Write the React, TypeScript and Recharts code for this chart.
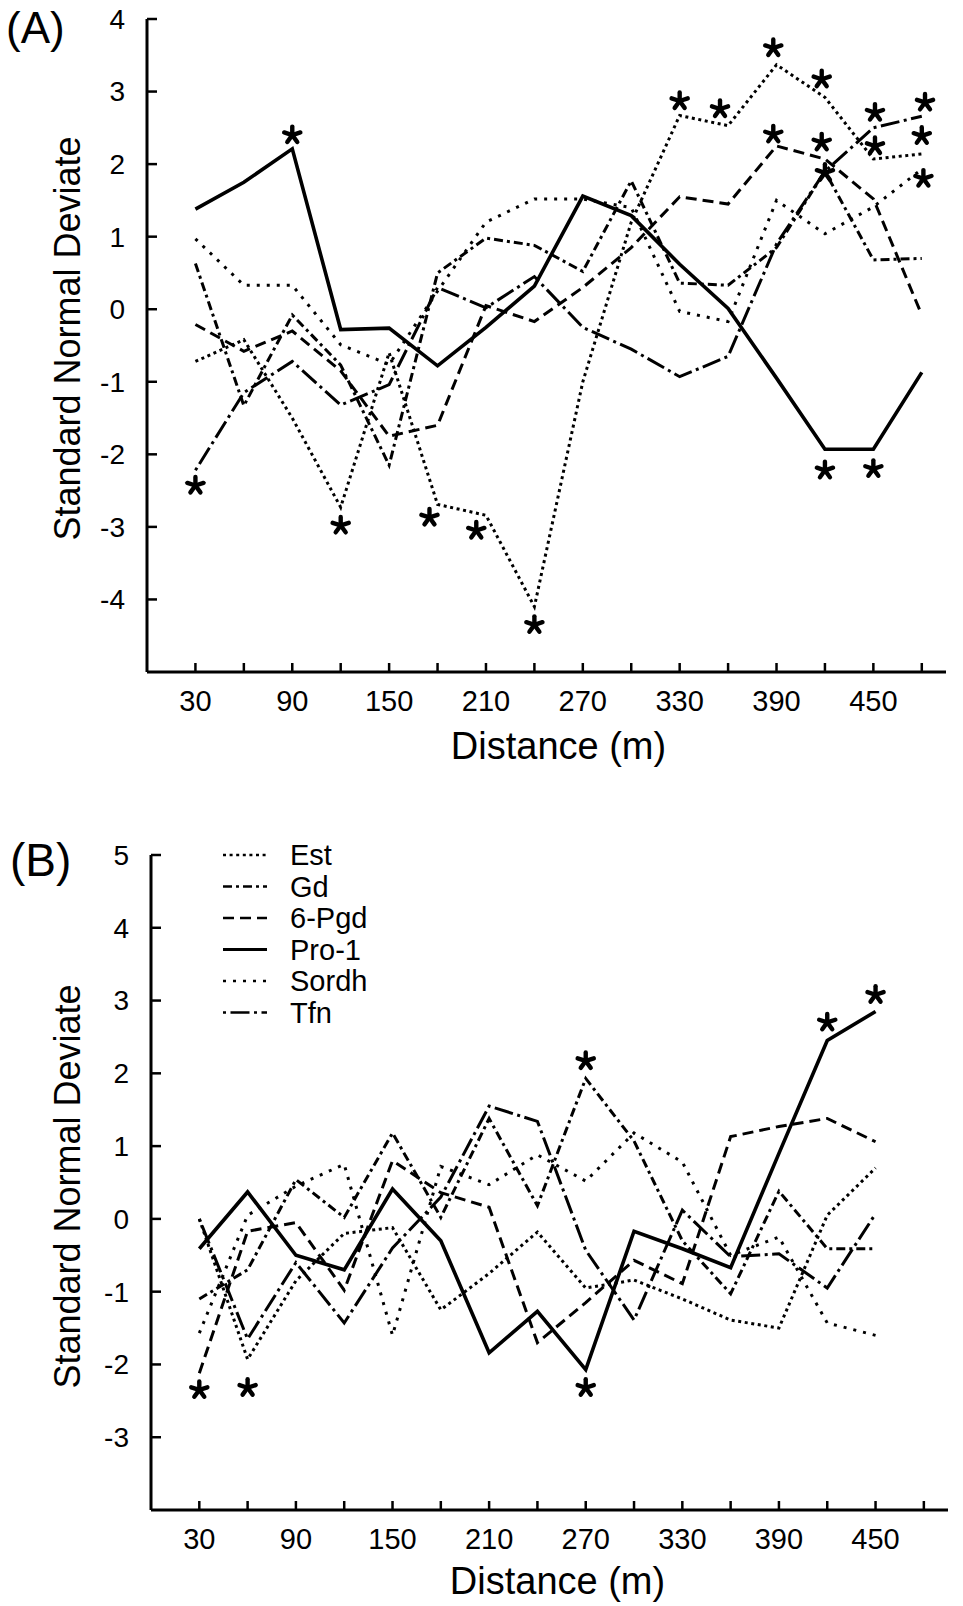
import React from 'react';
import { ComposedChart, Line, Scatter, XAxis, YAxis } from 'recharts';

const FONT = '"Liberation Sans", Arial, Helvetica, sans-serif';

// ---- Panel A (30 .. 480 m) ----
const distA = [30, 60, 90, 120, 150, 180, 210, 240, 270, 300, 330, 360, 390, 420, 450, 480];
const estA = [-0.72, -0.42, -1.5, -2.73, -0.6, -2.69, -2.84, -4.1, -1.0, 1.2, 2.67, 2.53, 3.37, 2.92, 2.07, 2.14];
const gdA = [0.63, -1.33, -0.08, -0.77, -2.15, 0.5, 0.98, 0.88, 0.52, 1.77, 0.36, 0.33, 0.85, 1.9, 0.68, 0.7];
const pgdA = [-0.21, -0.58, -0.3, -0.85, -1.75, -1.6, 0.05, -0.17, 0.3, 0.85, 1.55, 1.45, 2.25, 2.07, 1.52, -0.08];
const pro1A = [1.38, 1.75, 2.21, -0.28, -0.26, -0.78, -0.25, 0.32, 1.56, 1.29, 0.62, 0.01, -0.95, -1.93, -1.93, -0.87];
const sordhA = [0.97, 0.33, 0.33, -0.49, -0.76, 0.25, 1.2, 1.52, 1.52, 1.4, -0.03, -0.17, 1.5, 1.04, 1.41, 1.93];
const tfnA = [-2.22, -1.15, -0.72, -1.32, -1.04, 0.3, 0.02, 0.45, -0.25, -0.55, -0.93, -0.65, 0.9, 1.9, 2.5, 2.66];

// significant deviates (asterisks), panel A
const starsA = [
  { x: 30, y: -2.43 }, { x: 90, y: 2.4 }, { x: 120, y: -2.98 }, { x: 175, y: -2.87 },
  { x: 204, y: -3.05 }, { x: 240, y: -4.35 }, { x: 330, y: 2.87 }, { x: 355, y: 2.76 },
  { x: 388, y: 3.6 }, { x: 418, y: 3.17 }, { x: 388, y: 2.41 }, { x: 418, y: 2.3 },
  { x: 420, y: 1.88 }, { x: 451, y: 2.71 }, { x: 451, y: 2.25 }, { x: 482, y: 2.85 },
  { x: 480, y: 2.39 }, { x: 481, y: 1.8 }, { x: 420, y: -2.22 }, { x: 450, y: -2.2 },
];

// ---- Panel B (30 .. 450 m) ----
const distB = [30, 60, 90, 120, 150, 180, 210, 240, 270, 300, 330, 360, 390, 420, 450];
const estB = [0.0, -1.93, -0.85, -0.2, -0.12, -1.25, -0.75, -0.18, -0.95, -0.84, -1.1, -1.39, -1.5, 0.05, 0.7];
const gdB = [-1.1, -0.7, 0.54, 0.02, 1.18, 0.02, 1.38, 0.18, 1.93, 1.07, -0.3, -1.03, 0.38, -0.41, -0.41];
const pgdB = [-2.12, -0.17, -0.05, -0.98, 0.8, 0.36, 0.16, -1.7, -1.15, -0.57, -0.89, 1.13, 1.27, 1.38, 1.06];
const pro1B = [-0.41, 0.37, -0.5, -0.7, 0.41, -0.3, -1.84, -1.27, -2.07, -0.17, -0.41, -0.67, 0.9, 2.45, 2.85];
const sordhB = [-1.57, 0.05, 0.45, 0.75, -1.6, 0.72, 0.47, 0.88, 0.52, 1.18, 0.78, -0.5, -0.25, -1.43, -1.6];
const tfnB = [0.0, -1.65, -0.6, -1.43, -0.4, 0.3, 1.55, 1.34, -0.43, -1.39, 0.12, -0.52, -0.48, -0.95, 0.07];

const starsB = [
  { x: 30, y: -2.35 }, { x: 60, y: -2.32 }, { x: 270, y: 2.17 },
  { x: 270, y: -2.32 }, { x: 420, y: 2.7 }, { x: 450, y: 3.08 },
];

// axes
const xTicks = [30, 60, 90, 120, 150, 180, 210, 240, 270, 300, 330, 360, 390, 420, 450, 480];
const xTickLabels = [30, 90, 150, 210, 270, 330, 390, 450];
const yTicksA = [-4, -3, -2, -1, 0, 1, 2, 3, 4];
const yTicksB = [-3, -2, -1, 0, 1, 2, 3, 4, 5];

const SERIES = [
  { key: 'Est', dash: '3 3.6', width: 3 },
  { key: 'Gd', dash: '9 4 3 4', width: 3 },
  { key: '6-Pgd', dash: '11 6', width: 3 },
  { key: 'Pro-1', dash: undefined, width: 3.6 },
  { key: 'Sordh', dash: '3 7', width: 3 },
  { key: 'Tfn', dash: '3 4.5 19 4.5', width: 3 },
];

const rowsA = distA.map((x, i) => ({
  x, Est: estA[i], Gd: gdA[i], '6-Pgd': pgdA[i], 'Pro-1': pro1A[i], Sordh: sordhA[i], Tfn: tfnA[i],
}));
const rowsB = distB.map((x, i) => ({
  x, Est: estB[i], Gd: gdB[i], '6-Pgd': pgdB[i], 'Pro-1': pro1B[i], Sordh: sordhB[i], Tfn: tfnB[i],
}));

const fmtX = (v: number) => (xTickLabels.includes(v) ? String(v) : '');

const Asterisk = (props: any) => {
  const { cx, cy } = props;
  if (cx == null || cy == null) return null;
  return (
    <g>
      {[-90, -18, 54, 126, 198].map((a) => {
        const r = (a * Math.PI) / 180;
        return (
          <line key={a} x1={cx} y1={cy} x2={cx + 8.5 * Math.cos(r)} y2={cy + 8.5 * Math.sin(r)}
            stroke="#000" strokeWidth={4.4} strokeLinecap="round" />
        );
      })}
    </g>
  );
};

const yTitle = (dy: number) => (props: any) => {
  const vb = props.viewBox || {};
  const cx = vb.x + 80;
  const cy = vb.y + vb.height / 2 + dy;
  return (
    <text x={cx} y={cy} transform={`rotate(-90 ${cx} ${cy})`} textAnchor="middle"
      fontFamily={FONT} fontSize={36} fill="#000">
      Standard Normal Deviate
    </text>
  );
};

const xTitle = (dx: number, base: number) => (props: any) => {
  const vb = props.viewBox || {};
  return (
    <text x={vb.x + vb.width / 2 + dx} y={vb.y + base} textAnchor="middle"
      fontFamily={FONT} fontSize={38} fill="#000">
      Distance (m)
    </text>
  );
};

const axisLine = { stroke: '#000', strokeWidth: 3 };
const tickLine = { stroke: '#000', strokeWidth: 2.5 };
const xTick = { fill: '#000', fontSize: 29, fontFamily: FONT };
const yTick = { fill: '#000', fontSize: 28, fontFamily: FONT };

const renderLines = () =>
  SERIES.map((s) => (
    <Line key={s.key} type="linear" dataKey={s.key} stroke="#000" strokeWidth={s.width}
      strokeDasharray={s.dash} dot={false} activeDot={false} isAnimationActive={false} />
  ));

const App = () => {
  return (
    <div style={{ position: 'relative', width: 963, height: 1606, background: '#fff' }}>
      <style>{'body{margin:0;background:#fff}'}</style>

      <ComposedChart width={963} height={790} data={rowsA} margin={{ top: 19, right: 17, bottom: 0, left: 0 }}>
        <XAxis type="number" dataKey="x" domain={[0, 495]} allowDataOverflow ticks={xTicks} interval={0}
          tickFormatter={fmtX} tickSize={-9} tickMargin={27} height={118} axisLine={axisLine}
          tickLine={tickLine} tick={xTick} label={xTitle(12, 87)} />
        <YAxis type="number" domain={[-5, 4]} allowDataOverflow ticks={yTicksA} interval={0}
          width={147} tickSize={-10} tickMargin={32} axisLine={axisLine} tickLine={tickLine}
          tick={yTick} label={yTitle(-7)} />
        {renderLines()}
        <Scatter data={starsA} dataKey="y" shape={Asterisk} isAnimationActive={false} />
      </ComposedChart>

      <ComposedChart width={963} height={816} data={rowsB} margin={{ top: 65, right: 15, bottom: 0, left: 0 }}>
        <XAxis type="number" dataKey="x" domain={[0, 495]} allowDataOverflow ticks={xTicks} interval={0}
          tickFormatter={fmtX} tickSize={-9} tickMargin={27} height={96} axisLine={axisLine}
          tickLine={tickLine} tick={xTick} label={xTitle(8, 84)} />
        <YAxis type="number" domain={[-4, 5]} allowDataOverflow ticks={yTicksB} interval={0}
          width={151} tickSize={-10} tickMargin={32} axisLine={axisLine} tickLine={tickLine}
          tick={yTick} label={yTitle(4)} />
        {renderLines()}
        <Scatter data={starsB} dataKey="y" shape={Asterisk} isAnimationActive={false} />
      </ComposedChart>

      <svg width={963} height={1606} style={{ position: 'absolute', left: 0, top: 0, pointerEvents: 'none' }}>
        <text x={6} y={43} fontFamily={FONT} fontSize={44} fill="#000">(A)</text>
        <text x={10} y={876} fontFamily={FONT} fontSize={46} fill="#000">(B)</text>
        {SERIES.map((s, i) => (
          <g key={s.key}>
            <line x1={223} x2={267} y1={855 + i * 31.5} y2={855 + i * 31.5} stroke="#000"
              strokeWidth={s.key === 'Pro-1' ? 3 : 2.6} strokeDasharray={s.dash} />
            <text x={290} y={855 + i * 31.5} dominantBaseline="central" fontFamily={FONT}
              fontSize={29} fill="#000">{s.key}</text>
          </g>
        ))}
      </svg>
    </div>
  );
};

export default App;
